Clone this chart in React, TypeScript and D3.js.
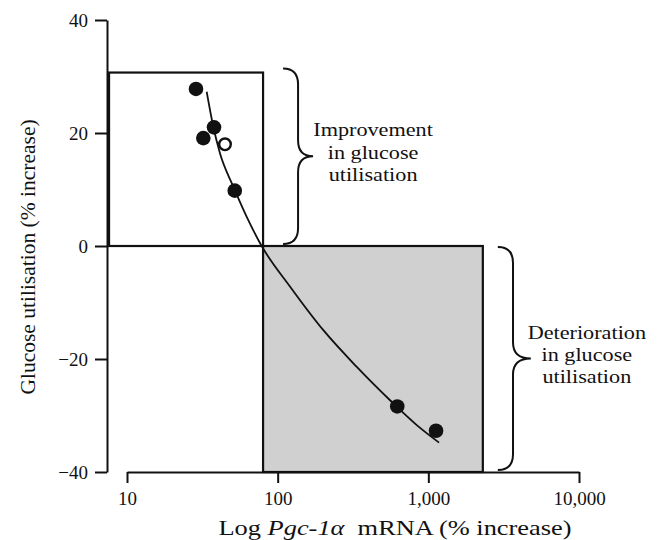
import * as d3 from 'd3';
import { useEffect, useRef } from 'react';

// axis ticks
const xTickValues = [10, 100, 1000, 10000];
const xTickLabels = ['10', '100', '1,000', '10,000'];
const yTickValues = [-40, -20, 0, 20, 40];
const yTickLabels = ['−40', '−20', '0', '20', '40'];

// measured points (% increase)
const filledX = [28.7, 32.1, 37.8, 51.9, 622, 1125];
const filledY = [27.8, 19.1, 21.0, 9.8, -28.4, -32.7];
const openX = [44.7];
const openY = [18.0];

// fitted curve
const fitX = [33.8, 37.4, 41.4, 50.8, 62.2, 78.3, 121, 201, 335, 557, 838, 1178];
const fitY = [27.3, 21.1, 16.4, 10.5, 5.2, 0, -7.2, -14.9, -21.4, -27.3, -31.7, -34.8];

// shaded regions
const regionNames = ['improvement', 'deterioration'];
const regionXMin = [7.6, 80];
const regionXMax = [80, 2300];
const regionYMin = [0, -40];
const regionYMax = [30.7, 0];
const regionFill = ['#ffffff', '#d0d0d0'];
const regionText = [
  ['Improvement', 'in glucose', 'utilisation'],
  ['Deterioration', 'in glucose', 'utilisation'],
];

const ink = '#111';
const serif = '"Liberation Serif", "Times New Roman", serif';

function bracePath(x0: number, y0: number, y1: number, w: number, k: number) {
  const xb = x0 + w * k;
  const xt = x0 + w;
  const ym = (y0 + y1) / 2;
  const r = 16;
  return `M${x0},${y0} Q${xb},${y0} ${xb},${y0 + r} L${xb},${ym - r} Q${xb},${ym} ${xt},${ym} Q${xb},${ym} ${xb},${ym + r} L${xb},${y1 - r} Q${xb},${y1} ${x0},${y1}`;
}

function GlucoseChart() {
  const svgRef = useRef<SVGSVGElement>(null);

  useEffect(() => {
    const svgEl = svgRef.current;
    if (!svgEl) return;

    const width = 660;
    const height = 540;
    const margin = { top: 20, right: 81, bottom: 68, left: 127 };
    const yAxisX = 107;

    const svg = d3.select(svgEl);
    svg.selectAll('*').remove();

    const x = d3.scaleLog().domain([10, 10000]).range([margin.left, width - margin.right]);
    const y = d3.scaleLinear().domain([-40, 40]).range([height - margin.bottom, margin.top]);

    const regions = regionNames.map((name, i) => ({
      name,
      x0: regionXMin[i],
      x1: regionXMax[i],
      y0: regionYMin[i],
      y1: regionYMax[i],
      fill: regionFill[i],
      text: regionText[i],
    }));

    // boxes (grey first so the white box edge sits on top)
    svg
      .selectAll('.region')
      .data([...regions].reverse())
      .join('rect')
      .attr('x', (d) => x(d.x0))
      .attr('y', (d) => y(d.y1))
      .attr('width', (d) => x(d.x1) - x(d.x0))
      .attr('height', (d) => y(d.y0) - y(d.y1))
      .attr('fill', (d) => d.fill)
      .attr('stroke', ink)
      .attr('stroke-width', 2.2);

    // fitted curve
    const fit = fitX.map((v, i) => [v, fitY[i]] as [number, number]);
    const line = d3
      .line<[number, number]>()
      .x((d) => x(d[0]))
      .y((d) => y(d[1]))
      .curve(d3.curveMonotoneX);
    svg
      .append('path')
      .attr('d', line(fit))
      .attr('fill', 'none')
      .attr('stroke', ink)
      .attr('stroke-width', 1.8);

    // points
    const filled = filledX.map((v, i) => ({ x: v, y: filledY[i] }));
    svg
      .selectAll('.dot')
      .data(filled)
      .join('circle')
      .attr('cx', (d) => x(d.x))
      .attr('cy', (d) => y(d.y))
      .attr('r', 7.3)
      .attr('fill', ink);

    const open = openX.map((v, i) => ({ x: v, y: openY[i] }));
    svg
      .selectAll('.open')
      .data(open)
      .join('circle')
      .attr('cx', (d) => x(d.x))
      .attr('cy', (d) => y(d.y))
      .attr('r', 5.8)
      .attr('fill', '#fff')
      .attr('stroke', ink)
      .attr('stroke-width', 2.4);

    // braces + labels
    const braceSpec = [
      { off: 20, w: 30, k: 0.5, pad0: -4, pad1: -2, dx: 60 },
      { off: 15, w: 33, k: 0.46, pad0: 1, pad1: -2, dx: 56 },
    ];
    regions.forEach((reg, i) => {
      const s = braceSpec[i];
      const bx = x(reg.x1) + s.off;
      const top = y(reg.y1) + s.pad0;
      const bot = y(reg.y0) + s.pad1;
      svg
        .append('path')
        .attr('d', bracePath(bx, top, bot, s.w, s.k))
        .attr('fill', 'none')
        .attr('stroke', ink)
        .attr('stroke-width', 2);
      const mid = (top + bot) / 2;
      const cx = bx + s.w + s.dx;
      reg.text.forEach((t, j) => {
        svg
          .append('g')
          .attr('transform', `translate(${cx},${mid - 20 + j * 22.3}) scale(1.17,1)`)
          .append('text')
          .attr('text-anchor', 'middle')
          .attr('font-family', serif)
          .attr('font-size', 19)
          .attr('fill', ink)
          .text(t);
      });
    });

    // y axis
    const yAxis = svg
      .append('g')
      .attr('transform', `translate(${yAxisX},0)`)
      .call(
        d3
          .axisLeft(y)
          .tickValues(yTickValues)
          .tickFormat((_, i) => yTickLabels[i])
          .tickSize(12)
          .tickSizeOuter(0)
          .tickPadding(7),
      );
    yAxis.attr('font-family', serif).attr('font-size', 19);
    yAxis.selectAll('path, line').attr('stroke', ink).attr('stroke-width', 2);
    yAxis.selectAll('text').attr('fill', ink);

    // x axis
    const xAxis = svg
      .append('g')
      .attr('transform', `translate(0,${height - margin.bottom})`)
      .call(
        d3
          .axisBottom(x)
          .tickValues(xTickValues)
          .tickFormat((_, i) => xTickLabels[i])
          .tickSize(11)
          .tickSizeOuter(0)
          .tickPadding(9),
      );
    xAxis.attr('font-family', serif).attr('font-size', 19);
    xAxis.selectAll('path, line').attr('stroke', ink).attr('stroke-width', 2);
    xAxis.selectAll('text').attr('fill', ink);

    // axis titles
    const xTitle = svg
      .append('g')
      .attr('transform', `translate(395,535) scale(1.2,1)`)
      .append('text')
      .attr('text-anchor', 'middle')
      .attr('font-family', serif)
      .attr('font-size', 22)
      .attr('fill', ink);
    xTitle.append('tspan').text('Log ');
    xTitle.append('tspan').attr('font-style', 'italic').text('Pgc-1α');
    xTitle.append('tspan').text('\u00a0 mRNA (% increase)');

    svg
      .append('text')
      .attr('transform', 'translate(34.5,257) rotate(-90)')
      .attr('text-anchor', 'middle')
      .attr('font-family', serif)
      .attr('font-size', 21.5)
      .attr('fill', ink)
      .text('Glucose utilisation (% increase)');
  }, []);

  return (
    <svg
      ref={svgRef}
      width={660}
      height={540}
      style={{ position: 'absolute', left: 0, top: 0, background: '#fff' }}
      role="img"
      aria-label="Glucose utilisation versus Pgc-1α mRNA"
    />
  );
}

export default function App() {
  return <GlucoseChart />;
}
